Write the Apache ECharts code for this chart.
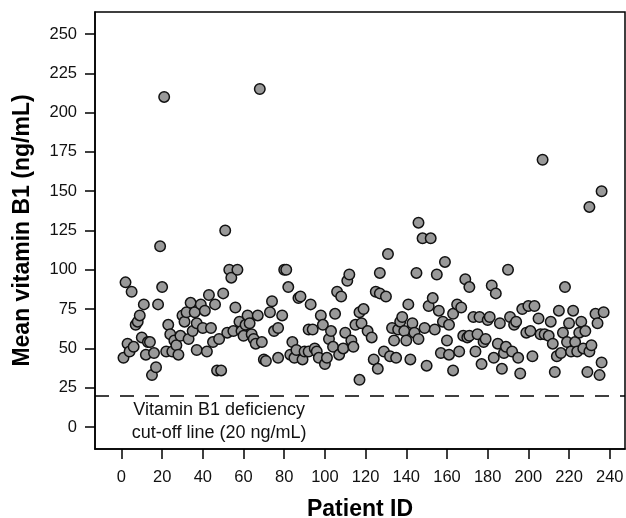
<!DOCTYPE html>
<html>
<head>
<meta charset="utf-8">
<script src="https://cdn.jsdelivr.net/npm/echarts@6/dist/echarts.min.js"></script>
<style>html,body{margin:0;padding:0;background:#fff}#c{width:626px;height:518px}</style>
</head>
<body>
<div id="c"></div>
<script>
const patientId = [
1,2,3,4,5,6,7,8,9,10,11,12,13,14,15,16,17,18,19,20,21,22,23,24,25,26,27,28,29,30,31,32,33,34,35,36,37,37,
39,40,41,42,43,44,45,46,47,48,49,50,51,52,53,54,55,56,57,58,59,60,61,62,63,64,65,66,67,68,69,70,71,73,74,75,77,77,79,
80,81,82,83,84,85,86,87,88,89,90,92,92,93,94,95,96,97,98,99,100,101,102,103,104,105,106,107,108,109,110,111,112,113,114,115,117,117,118,119,121,
123,124,125,126,127,127,129,130,131,132,133,134,135,136,137,138,139,140,141,142,143,144,145,146,146,148,149,150,151,152,153,154,155,156,157,158,159,160,161,161,163,163,
165,166,167,168,169,170,171,171,173,174,175,176,177,178,179,180,181,182,183,184,185,186,187,188,189,190,191,192,193,194,195,196,197,199,200,201,202,203,205,
206,207,208,210,211,212,213,214,215,216,217,218,219,220,221,222,223,224,225,226,227,228,229,230,230,231,233,234,235,236,236,237
];
const vitaminB1 = [
44,92,53,48,86,51,65,67,71,57,78,46,54,54,33,47,38,78,115,89,210,48,65,59,48,55,52,46,58,71,67,73,56,79,61,73,49,66,
78,63,74,48,84,63,54,78,36,56,36,85,125,60,100,95,61,76,100,67,61,58,65,71,66,59,56,53,71,215,54,43,42,73,80,61,63,44,71,
100,100,89,46,54,44,49,82,83,43,48,48,62,78,62,50,48,44,71,65,40,44,56,61,51,72,86,46,83,50,60,93,97,55,51,65,73,30,66,75,61,
57,43,86,37,98,85,48,83,110,45,63,55,44,62,67,70,61,55,78,43,66,60,98,56,130,120,63,39,77,120,82,62,97,74,47,67,105,55,65,46,72,36,
78,48,76,58,94,57,89,58,70,48,59,70,40,54,56,68,70,90,44,85,53,66,37,47,51,100,70,48,65,67,44,34,75,60,77,61,45,77,69,
59,170,59,58,67,53,35,45,74,47,60,89,54,66,48,74,54,48,60,67,50,61,35,48,140,52,72,66,33,41,150,73
];
const xTicks = [0,20,40,60,80,100,120,140,160,180,200,220,240];
const yTicks = [0,25,50,75,100,125,150,175,200,225,250];
const cutoffValue = 20;
const annotationText = 'Vitamin B1 deficiency\ncut-off line (20 ng/mL)';

const chart = echarts.init(document.getElementById('c'), null, {renderer: 'canvas'});
const FONT = '"Liberation Sans", Arial, sans-serif';
const axisCommon = {
  type: 'value',
  splitLine: {show: false},
  axisLine: {show: true, onZero: false, lineStyle: {color: '#000', width: 1.5}},
  axisTick: {show: true, inside: false, length: 10, lineStyle: {color: '#000', width: 1.5}},
  nameLocation: 'middle',
  nameTextStyle: {fontFamily: FONT, fontSize: 23, fontWeight: 'bold', color: '#000'}
};
chart.setOption({
  animation: false,
  backgroundColor: '#fff',
  grid: {left: 95, right: 1, top: 12, bottom: 69, containLabel: false, outerBoundsMode: 'none', show: true, borderColor: '#000', borderWidth: 1.5, backgroundColor: 'transparent'},
  xAxis: Object.assign({}, axisCommon, {
    min: -13, max: 247.5,
    name: 'Patient ID', nameGap: 49,
    axisTick: Object.assign({}, axisCommon.axisTick, {customValues: xTicks}),
    axisLabel: {customValues: xTicks, margin: 20, fontFamily: FONT, fontSize: 16.5, color: '#111'}
  }),
  yAxis: Object.assign({}, axisCommon, {
    min: -14, max: 264,
    name: 'Mean vitamin B1 (ng/mL)', nameGap: 61,
    axisTick: Object.assign({}, axisCommon.axisTick, {customValues: yTicks}),
    axisLabel: {customValues: yTicks, margin: 18, fontFamily: FONT, fontSize: 16.5, color: '#111'}
  }),
  series: [{
    type: 'scatter',
    symbol: 'circle',
    symbolSize: 10.5,
    itemStyle: {color: '#999999', borderColor: '#111', borderWidth: 1.5, opacity: 1},
    data: patientId.map((x, i) => [x, vitaminB1[i]]),
    markLine: {
      silent: true, symbol: 'none', animation: false,
      label: {show: false},
      lineStyle: {color: '#000', width: 1.5, type: [14, 11]},
      data: [{yAxis: cutoffValue}]
    }
  }]
});
const p = chart.convertToPixel({gridIndex: 0}, [48, cutoffValue]);
chart.setOption({
  graphic: [{
    type: 'text', x: p[0], y: p[1] + 3,
    style: {text: annotationText, textAlign: 'center', textVerticalAlign: 'top', fontFamily: FONT, fontSize: 18, lineHeight: 23, fill: '#111'}
  }]
});
</script>
</body>
</html>
